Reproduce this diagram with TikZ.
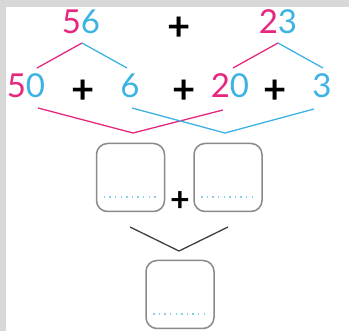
\documentclass[tikz,border=0pt]{standalone}
\usepackage{fontspec}
\setmainfont{Lato}
\definecolor{pinkdigit}{HTML}{E5287D}
\definecolor{bluedigit}{HTML}{3DB3E3}
\definecolor{dotblue}{HTML}{8CCDE8}
\definecolor{boxgray}{HTML}{8A8A8A}
\definecolor{framegray}{HTML}{D8D8D8}
\newcommand{\pk}[1]{\textcolor{pinkdigit}{#1}}
\newcommand{\bl}[1]{\textcolor{bluedigit}{#1}}
\begin{document}
\begin{tikzpicture}[x=1pt,y=-1pt,
  numtext/.style={anchor=base,inner sep=0pt,font=\fontsize{33}{33}\selectfont},
  plustext/.style={inner sep=0pt,font=\fontsize{40}{40}\selectfont\bfseries},
  pinkline/.style={pinkdigit,line width=1.3pt},
  blueline/.style={bluedigit,line width=1.3pt},
  answerbox/.style={draw=boxgray,line width=1.5pt,rounded corners=11pt,
    minimum width=68pt,minimum height=68pt,inner sep=0pt},
  dots/.style={dotblue,line width=1.6pt,dash pattern=on 1.4pt off 4.2pt},
  vee/.style={draw=black!75,line width=1.3pt}]
  \useasboundingbox (0,0) rectangle (349,331);
  % page frame
  \fill[white] (0,0) rectangle (349,331);
  \fill[framegray] (0,0) rectangle (349,7);
  \fill[framegray] (0,0) rectangle (6,331);

  % first row
  \node[numtext] (n56) at (81,34) {\pk{5}\bl{6}};
  \node[plustext] (p0) at (179,29) {+};
  \node[numtext] (n23) at (278,34) {\pk{2}\bl{3}};

  % second row
  \node[numtext] (n50) at (26,98) {\pk{5}\bl{0}};
  \node[plustext] (p1) at (83,92) {+};
  \node[numtext] (n6) at (130,98) {\bl{6}};
  \node[plustext] (p2) at (184,92) {+};
  \node[numtext] (n20) at (230,98) {\pk{2}\bl{0}};
  \node[plustext] (p3) at (275,92) {+};
  \node[numtext] (n3) at (322,98) {\bl{3}};

  % splitting lines
  \coordinate (a56) at (82,43);
  \coordinate (l56) at (37,68);
  \coordinate (r56) at (127,68);
  \coordinate (a23) at (278,43);
  \coordinate (l23) at (233,68);
  \coordinate (r23) at (323,68);
  \draw[pinkline] (a56) -- (l56);
  \draw[blueline] (a56) -- (r56);
  \draw[pinkline] (a23) -- (l23);
  \draw[blueline] (a23) -- (r23);

  % grouping lines
  \coordinate (t50) at (38,108);
  \coordinate (t20) at (223,110);
  \coordinate (tp) at (133,133);
  \coordinate (t6) at (132,108);
  \coordinate (t3) at (314,109);
  \coordinate (tb) at (225,133);
  \draw[pinkline] (t50) -- (tp) -- (t20);
  \draw[blueline] (t6) -- (tb) -- (t3);

  % answer boxes
  \node[answerbox] (b1) at (130.5,177.5) {};
  \node[answerbox] (b2) at (228,177.5) {};
  \node[plustext,font=\fontsize{34}{34}\selectfont\bfseries] (p4) at (180,202) {+};
  \node[answerbox] (b3) at (180,294.5) {};
  \draw[dots] ([xshift=8pt,yshift=15pt]b1.south west) -- ([xshift=-8pt,yshift=15pt]b1.south east);
  \draw[dots] ([xshift=8pt,yshift=15pt]b2.south west) -- ([xshift=-8pt,yshift=15pt]b2.south east);
  \draw[dots] ([xshift=8pt,yshift=15pt]b3.south west) -- ([xshift=-8pt,yshift=15pt]b3.south east);

  % joining vee
  \coordinate (v1) at (130,227);
  \coordinate (v0) at (179,251);
  \coordinate (v2) at (228,227);
  \draw[vee] (v1) -- (v0) -- (v2);
\end{tikzpicture}
\end{document}
